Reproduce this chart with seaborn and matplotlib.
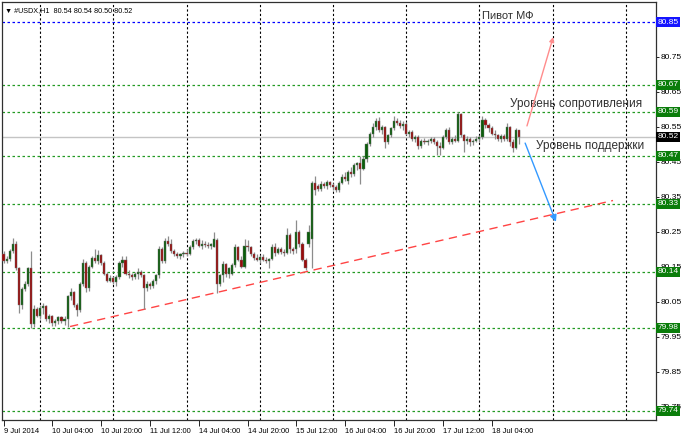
import numpy as np
import pandas as pd
import seaborn as sns
import matplotlib.pyplot as plt

# hourly USDX candles, 9 Jul 12:00 .. 18 Jul 13:00 (bar index = position on chart)
opens = [80.187, 80.167, 80.172, 80.195, 80.215, 80.147, 80.040, 80.087, 80.100, 80.145,
         79.985, 80.030, 80.010, 80.032, 80.038, 80.000, 80.010, 79.990, 79.995, 80.005,
         79.995, 80.000, 80.065, 80.078, 80.040, 80.025, 80.100, 80.160, 80.088, 80.150,
         80.175, 80.165, 80.182, 80.160, 80.130, 80.110, 80.118, 80.105, 80.120, 80.160,
         80.168, 80.130, 80.125, 80.120, 80.128, 80.135, 80.125, 80.090, 80.100, 80.095,
         80.110, 80.125, 80.200, 80.165, 80.222, 80.215, 80.195, 80.185, 80.180, 80.185,
         80.190, 80.185, 80.205, 80.222, 80.225, 80.210, 80.215, 80.212, 80.208, 80.205,
         80.225, 80.100, 80.125, 80.158, 80.130, 80.130, 80.155, 80.205, 80.170, 80.150,
         80.210, 80.205, 80.185, 80.175, 80.170, 80.178, 80.170, 80.165, 80.172, 80.205,
         80.190, 80.200, 80.192, 80.190, 80.240, 80.200, 80.200, 80.250, 80.215, 80.170,
         80.215, 80.230, 80.388, 80.380, 80.372, 80.385, 80.380, 80.392, 80.382, 80.378,
         80.368, 80.390, 80.405, 80.395, 80.420, 80.415, 80.440, 80.445, 80.430, 80.458,
         80.500, 80.530, 80.548, 80.565, 80.540, 80.548, 80.505, 80.525, 80.545, 80.565,
         80.560, 80.552, 80.558, 80.530, 80.535, 80.515, 80.520, 80.495, 80.510, 80.505,
         80.510, 80.516, 80.505, 80.495, 80.490, 80.520, 80.540, 80.505, 80.515, 80.510,
         80.585, 80.526, 80.510, 80.515, 80.505, 80.510, 80.515, 80.520, 80.570, 80.555,
         80.545, 80.530, 80.525, 80.515, 80.522, 80.515, 80.550, 80.505, 80.490, 80.540]
highs = [80.195, 80.180, 80.200, 80.232, 80.222, 80.150, 80.092, 80.110, 80.150, 80.196,
         80.040, 80.035, 80.040, 80.045, 80.040, 80.015, 80.012, 80.000, 80.010, 80.010,
         80.008, 80.070, 80.090, 80.080, 80.045, 80.105, 80.172, 80.165, 80.155, 80.180,
         80.200, 80.198, 80.185, 80.165, 80.135, 80.125, 80.122, 80.125, 80.165, 80.180,
         80.180, 80.140, 80.132, 80.135, 80.145, 80.140, 80.130, 80.108, 80.105, 80.115,
         80.130, 80.210, 80.205, 80.232, 80.238, 80.230, 80.200, 80.192, 80.190, 80.195,
         80.200, 80.212, 80.228, 80.232, 80.232, 80.225, 80.222, 80.220, 80.218, 80.250,
         80.232, 80.130, 80.165, 80.160, 80.150, 80.160, 80.215, 80.208, 80.180, 80.230,
         80.225, 80.210, 80.192, 80.185, 80.182, 80.185, 80.178, 80.175, 80.215, 80.218,
         80.205, 80.205, 80.200, 80.260, 80.245, 80.205, 80.282, 80.255, 80.220, 80.175,
         80.268, 80.395, 80.410, 80.385, 80.395, 80.392, 80.398, 80.396, 80.388, 80.382,
         80.395, 80.415, 80.420, 80.425, 80.435, 80.445, 80.450, 80.465, 80.465, 80.505,
         80.535, 80.560, 80.575, 80.578, 80.555, 80.552, 80.530, 80.550, 80.580, 80.575,
         80.570, 80.565, 80.562, 80.540, 80.540, 80.525, 80.525, 80.515, 80.518, 80.515,
         80.520, 80.520, 80.512, 80.505, 80.525, 80.545, 80.548, 80.520, 80.525, 80.592,
         80.590, 80.530, 80.522, 80.520, 80.515, 80.522, 80.525, 80.580, 80.575, 80.560,
         80.552, 80.540, 80.530, 80.530, 80.528, 80.560, 80.552, 80.515, 80.545, 80.540]
lows = [80.160, 80.160, 80.165, 80.190, 80.140, 80.018, 80.030, 80.080, 80.095, 79.975,
        79.978, 80.005, 80.000, 80.015, 79.995, 79.990, 79.980, 79.980, 79.985, 79.988,
        79.982, 79.978, 80.055, 80.035, 80.010, 80.020, 80.095, 80.078, 80.080, 80.145,
        80.160, 80.158, 80.155, 80.125, 80.105, 80.105, 80.100, 80.095, 80.115, 80.150,
        80.125, 80.118, 80.112, 80.115, 80.115, 80.120, 80.030, 80.080, 80.085, 80.090,
        80.100, 80.118, 80.160, 80.160, 80.210, 80.190, 80.180, 80.175, 80.172, 80.178,
        80.180, 80.182, 80.200, 80.215, 80.205, 80.200, 80.205, 80.202, 80.200, 80.205,
        80.075, 80.095, 80.105, 80.120, 80.118, 80.125, 80.150, 80.165, 80.145, 80.145,
        80.195, 80.180, 80.168, 80.165, 80.160, 80.165, 80.160, 80.145, 80.168, 80.180,
        80.185, 80.185, 80.180, 80.185, 80.190, 80.185, 80.190, 80.205, 80.165, 80.140,
        80.205, 80.147, 80.355, 80.365, 80.365, 80.375, 80.372, 80.378, 80.370, 80.362,
        80.362, 80.385, 80.395, 80.385, 80.405, 80.410, 80.425, 80.385, 80.425, 80.450,
        80.495, 80.520, 80.540, 80.535, 80.530, 80.490, 80.500, 80.520, 80.540, 80.555,
        80.545, 80.540, 80.525, 80.520, 80.510, 80.505, 80.485, 80.488, 80.500, 80.498,
        80.502, 80.500, 80.468, 80.468, 80.485, 80.515, 80.500, 80.500, 80.505, 80.505,
        80.520, 80.478, 80.500, 80.495, 80.498, 80.505, 80.505, 80.515, 80.545, 80.535,
        80.525, 80.515, 80.510, 80.505, 80.510, 80.510, 80.495, 80.478, 80.485, 80.500]
closes = [80.167, 80.172, 80.195, 80.215, 80.147, 80.040, 80.087, 80.100, 80.145, 79.985,
          80.030, 80.010, 80.032, 80.038, 80.000, 80.010, 79.990, 79.995, 80.005, 79.995,
          80.000, 80.065, 80.078, 80.040, 80.025, 80.100, 80.160, 80.088, 80.150, 80.175,
          80.165, 80.182, 80.160, 80.130, 80.110, 80.118, 80.105, 80.120, 80.160, 80.168,
          80.130, 80.125, 80.120, 80.128, 80.135, 80.125, 80.090, 80.100, 80.095, 80.110,
          80.125, 80.200, 80.165, 80.222, 80.215, 80.195, 80.185, 80.180, 80.185, 80.190,
          80.185, 80.205, 80.222, 80.225, 80.210, 80.215, 80.212, 80.208, 80.215, 80.230,
          80.100, 80.125, 80.158, 80.130, 80.145, 80.155, 80.205, 80.170, 80.150, 80.210,
          80.205, 80.185, 80.175, 80.170, 80.178, 80.170, 80.165, 80.172, 80.205, 80.190,
          80.200, 80.192, 80.190, 80.240, 80.200, 80.195, 80.250, 80.215, 80.170, 80.145,
          80.250, 80.388, 80.368, 80.372, 80.385, 80.380, 80.392, 80.382, 80.378, 80.368,
          80.390, 80.405, 80.400, 80.420, 80.415, 80.440, 80.445, 80.430, 80.458, 80.500,
          80.530, 80.548, 80.565, 80.540, 80.548, 80.505, 80.525, 80.545, 80.565, 80.560,
          80.552, 80.558, 80.530, 80.535, 80.515, 80.520, 80.495, 80.510, 80.505, 80.510,
          80.516, 80.505, 80.495, 80.490, 80.520, 80.540, 80.505, 80.515, 80.510, 80.585,
          80.526, 80.510, 80.515, 80.505, 80.510, 80.515, 80.520, 80.570, 80.555, 80.545,
          80.530, 80.525, 80.515, 80.522, 80.515, 80.550, 80.505, 80.490, 80.540, 80.520]

tick_bars = [0, 16, 32, 48, 64, 80, 96, 112, 128, 144, 160]
tick_labels = ["9 Jul 2014", "10 Jul 04:00", "10 Jul 20:00", "11 Jul 12:00", "14 Jul 04:00",
               "14 Jul 20:00", "15 Jul 12:00", "16 Jul 04:00", "16 Jul 20:00", "17 Jul 12:00",
               "18 Jul 04:00"]
day_bars = [12, 36, 60, 84, 108, 132, 156, 180, 204]

level_values = [80.669, 80.593, 80.467, 80.329, 80.135, 79.976, 79.739]
level_labels = ["80.67", "80.59", "80.47", "80.33", "80.14", "79.98", "79.74"]
pivot_value = 80.848
bid_value = 80.521
price_ticks = [79.75, 79.85, 79.95, 80.05, 80.15, 80.25, 80.35, 80.45, 80.55, 80.65, 80.75]

trend_x = [21.8, 199.8]
trend_y = [79.979, 80.339]
up_arrow = [(171.6, 80.552), (180.2, 80.806)]
down_arrow = [(171.0, 80.503), (181.1, 80.278)]

df = pd.DataFrame({"bar": np.arange(len(closes)), "open": opens, "high": highs,
                   "low": lows, "close": closes})
df["up"] = df.close >= df.open

sns.set_theme(style="white")
plt.rcParams["font.family"] = ["Liberation Sans", "DejaVu Sans"]

fig = plt.figure(figsize=(6.88, 4.40), dpi=100, facecolor="white")
ax = fig.add_axes([2 / 688, 20 / 440, 654 / 688, 418 / 440])
ax.set_xlim(-0.5, 213.9)
ax.set_ylim(79.712, 80.906)

# day separators
for b in day_bars:
    ax.axvline(b, color="black", lw=0.8, ls=(0, (2, 2)), zorder=1)

# levels
for v in level_values:
    ax.axhline(v, color="#239a23", lw=0.9, ls=(0, (2, 2)), zorder=1)
ax.axhline(pivot_value, color="#0000ff", lw=0.9, ls=(0, (2, 2)), zorder=1)
ax.axhline(bid_value, color="#c4c4c4", lw=1.0, zorder=1)

# trend line
sns.lineplot(x=trend_x, y=trend_y, ax=ax, color="#ff4444", lw=1.0,
             linestyle=(0, (6, 4)), zorder=2)

# candles
ax.vlines(df.bar, df.low, df.high, color="#8c8c8c", lw=0.9, zorder=3)
body_h = (df.close - df.open).abs().clip(lower=0.0012)
body_b = df[["open", "close"]].min(axis=1)
colors = np.where(df.up, "#0b5e0b", "#9a0c0c")
ax.bar(df.bar, body_h, bottom=body_b, width=0.7, color=colors,
       edgecolor="#707070", linewidth=0.3, zorder=4)

# arrows
ax.annotate("", xy=up_arrow[1], xytext=up_arrow[0],
            arrowprops=dict(arrowstyle="-|>", color="#ff8c8c", lw=1.0,
                            mutation_scale=7, shrinkA=0, shrinkB=0), zorder=5)
ax.annotate("", xy=down_arrow[1], xytext=down_arrow[0],
            arrowprops=dict(arrowstyle="-|>", color="#3399ff", lw=1.0,
                            mutation_scale=10, shrinkA=0, shrinkB=0), zorder=5)

# annotations
ax.text(157, 80.866, "Пивот МФ", fontsize=8, color="#303030", va="center", ha="left")
ax.text(166.1, 80.615, "Уровень сопротивления", fontsize=8.5, color="#303030",
        va="center", ha="left")
ax.text(174.6, 80.495, "Уровень поддержки", fontsize=8.5, color="#303030",
        va="center", ha="left")
ax.text(0.004, 0.979, "▼ #USDX,H1  80.54 80.54 80.50 80.52", transform=ax.transAxes,
        fontsize=5.2, color="black", va="center", ha="left")

# axes
ax.yaxis.tick_right()
ax.set_yticks(price_ticks)
ax.set_yticklabels([f"{v:.2f}" for v in price_ticks])
ax.tick_params(axis="y", right=True, length=2, width=0.6, pad=1.5, labelsize=6,
               colors="black")
ax.set_xticks(tick_bars)
ax.set_xticklabels(tick_labels, ha="left")
ax.tick_params(axis="x", bottom=True, length=4, width=0.6, pad=2, labelsize=5.5,
               colors="black", direction="out")
for s in ax.spines.values():
    s.set_color("#303030")
    s.set_linewidth(0.9)

# price boxes on the right
box_trans = ax.get_yaxis_transform()
def price_box(v, text, face):
    ax.text(1.002, v, text, transform=box_trans, fontsize=6, color="white",
            va="center", ha="left", zorder=6, clip_on=False,
            bbox=dict(boxstyle="square,pad=0.18", fc=face, ec="none"))

for v, t in zip(level_values, level_labels):
    price_box(v, t, "#0a7d0a")
price_box(pivot_value, "80.85", "#1515ff")
price_box(bid_value, "80.52", "black")

fig.savefig("out.png", dpi=100, facecolor="white")
